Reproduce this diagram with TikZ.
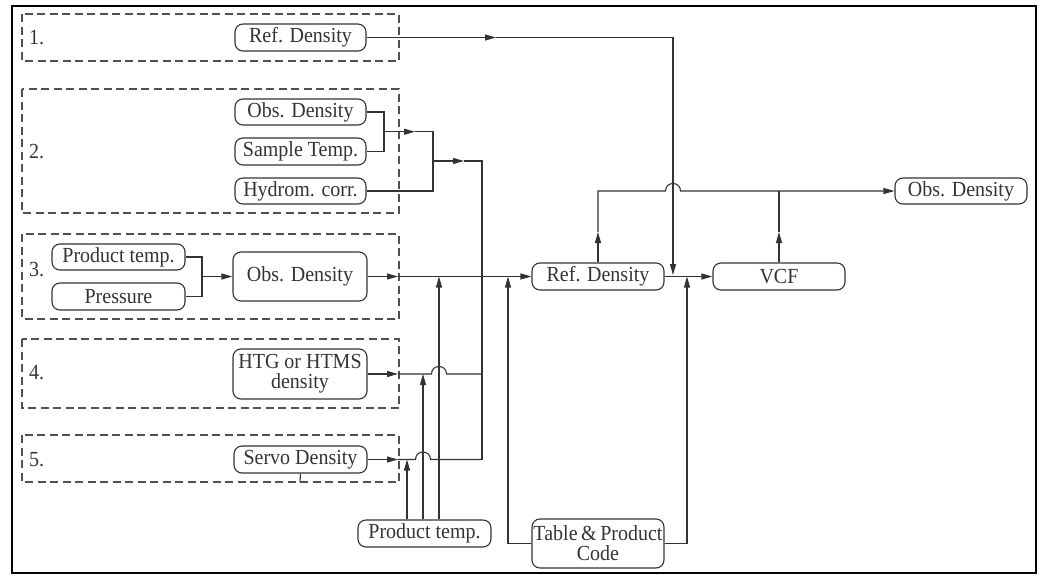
\documentclass[tikz,border=0pt]{standalone}
\usepackage{fontspec}
\setmainfont{Liberation Serif}[FakeStretch=0.93]
\usetikzlibrary{arrows.meta}
\definecolor{ink}{HTML}{333333}
\definecolor{dashc}{HTML}{505050}
\begin{document}
\begin{tikzpicture}[x=1pt,y=-1pt,
  box/.style={draw=ink, line width=1.1pt, rounded corners=8pt, inner sep=0pt,
    font=\fontsize{21.5}{20}\selectfont, text=ink, align=center},
  grp/.style={draw=dashc, dash pattern=on 8pt off 4.5pt, line width=1.05pt},
  wire/.style={draw=ink, line width=1.1pt},
  arr/.style={wire, -{Triangle[length=11pt,width=6pt]}},
  lbl/.style={font=\fontsize{21.5}{20}\selectfont, text=ink, inner sep=0pt, anchor=west}]

\useasboundingbox (0,0) rectangle (1045,576);
\draw[line width=2.2pt] (12,6) rectangle (1036,573);

% groups
\draw[grp] (22,14) rectangle (399,61);
\draw[grp] (22,89) rectangle (399,213);
\draw[grp] (22,234) rectangle (399,319);
\draw[grp] (22,339) rectangle (399,408);
\draw[grp] (22,435) rectangle (399,482);

\node[lbl] (n1) at (29,37.5) {1.};
\node[lbl] (n2) at (29,151.5) {2.};
\node[lbl] (n3) at (29,270) {3.};
\node[lbl] (n4) at (29,373) {4.};
\node[lbl] (n5) at (29,459.5) {5.};

% nodes
\node[box, minimum width=131pt, minimum height=27pt] (ref1) at (300.5,37.5) {Ref. Density};
\node[box, minimum width=131pt, minimum height=26pt] (obs2) at (300.5,112) {Obs. Density};
\node[box, minimum width=131pt, minimum height=27pt] (samp) at (300.5,151.5) {Sample Temp.};
\node[box, minimum width=131pt, minimum height=26pt] (hyd) at (300.5,191) {Hydrom. corr.};
\node[box, minimum width=133pt, minimum height=26pt] (pt3) at (118.5,257) {Product temp.};
\node[box, minimum width=133pt, minimum height=27pt] (pres) at (118.5,296.5) {Pressure};
\node[box, minimum width=134pt, minimum height=49pt] (obs3) at (300,276.5) {Obs. Density};
\node[box, minimum width=134pt, minimum height=50pt] (htg) at (300,374) {HTG or HTMS\\density};
\node[box, minimum width=133pt, minimum height=27pt] (servo) at (300.5,459.5) {Servo Density};
\node[box, minimum width=133pt, minimum height=27pt] (ptemp) at (424.5,533.5) {Product temp.};
\node[box, minimum width=132pt, minimum height=49pt] (tab) at (598,543.5) {Table\,\&\,Product\\Code};
\node[box, minimum width=132pt, minimum height=27pt] (refc) at (598,276.5) {Ref. Density};
\node[box, minimum width=132pt, minimum height=27pt] (vcf) at (779,276.5) {VCF};
\node[box, minimum width=132pt, minimum height=26pt] (obsout) at (961,191) {Obs. Density};

% junction coordinates
\coordinate (a1) at (496,37.5);
\coordinate (k1) at (673,37.5);
\coordinate (k1t) at (673,275);
\coordinate (m2) at (384,131.75);
\coordinate (a2) at (415,131.75);
\coordinate (b2) at (433,131.75);
\coordinate (c2) at (433,161);
\coordinate (a3) at (464,161);
\coordinate (b3) at (482,161);
\coordinate (b4) at (482,459.5);
\coordinate (m3) at (202,276.5);
\coordinate (a4) at (398,276.5);
\coordinate (a5) at (398,374);
\coordinate (a6) at (398,459.5);
\coordinate (u1) at (598,232);
\coordinate (u2) at (779,232);
\coordinate (h1) at (597,191);
\coordinate (h2) at (779,191);
\coordinate (v1) at (407,459.5);
\coordinate (v2) at (423,374);
\coordinate (v3) at (439,276.5);
\coordinate (t1) at (508,276.5);
\coordinate (t2) at (687,276.5);

% group 1
\draw[arr] (ref1.east) -- (a1);
\draw[arr] (a1) -- (k1) -- (k1t);

% group 2
\draw[wire] (obs2.east) -- (384,112) -- (384,151.5) -- (samp.east);
\draw[arr] (m2) -- (a2);
\draw[wire] (a2) -- (b2) -- (433,191) -- (hyd.east);
\draw[arr] (c2) -- (a3);
\draw[wire] (a3) -- (b3) -- (b4);

% group 3
\draw[wire] (pt3.east) -- (202,257) -- (202,296.5) -- (pres.east);
\draw[arr] (m3) -- (obs3.west);
\draw[arr] (obs3.east) -- (a4);
\draw[arr] (a4) -- (refc.west);

% group 4
\draw[arr] (htg.east) -- (a5);
\draw[wire] (a5) -- (431.5,374) .. controls (431.5,364) and (446.5,364) .. (446.5,374) -- (482,374);

% group 5
\draw[arr] (servo.east) -- (a6);
\draw[wire] (a6) -- (415.5,459.5) .. controls (415.5,449.5) and (430.5,449.5) .. (430.5,459.5) -- (b4);
\draw[wire] (servo.south) -- (300,482);

% product temp
\draw[arr] (v1 |- ptemp.north) -- (v1);
\draw[arr] (v2 |- ptemp.north) -- (v2);
\draw[arr] (v3 |- ptemp.north) -- (v3);

% table & product code
\draw[arr] (tab.west) -| (t1);
\draw[arr] (tab.east) -| (t2);

% right part
\draw[arr] (refc.east) -- (vcf.west);
\draw[arr] (refc.north) -- (u1);
\draw[arr] (u1) -- (u1 |- h1) -- (665.5,191) .. controls (665.5,181) and (680.5,181) .. (680.5,191) -- (obsout.west);
\draw[arr] (vcf.north) -- (u2);
\draw[wire] (u2) -- (h2);
\end{tikzpicture}
\end{document}
